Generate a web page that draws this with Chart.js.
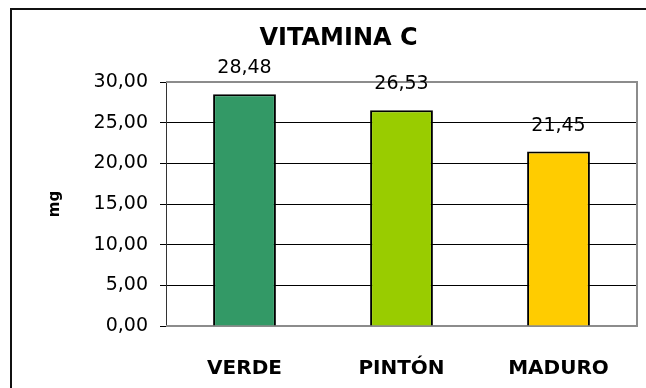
<!DOCTYPE html>
<html>
<head>
<meta charset="utf-8">
<title>Vitamina C</title>
<script src="https://cdn.jsdelivr.net/npm/chart.js@4.4.0/dist/chart.umd.min.js"></script>
<style>
  html, body { margin: 0; padding: 0; background: #fff; overflow: hidden; }
  #wrap { width: 646px; height: 388px; }
</style>
</head>
<body>
<div id="wrap"><canvas id="mycanvas" width="646" height="388"></canvas></div>
<script>
var categorias = ['VERDE', 'PINTÓN', 'MADURO'];
var vitaminaC = [28.48, 26.53, 21.45];
var colores = ['#339966', '#99CC00', '#FFCC00'];
var ejeMin = 0;
var ejeMax = 30;
var ejePaso = 5;

function coma(v) {
    return Number(v).toFixed(2).replace('.', ',');
}

// marco exterior, borde gris del area de trazado y valores sobre cada barra
var marcos = {
    id: 'marcos',
    beforeDraw: function(chart) {
        var ctx = chart.ctx;
        ctx.save();
        ctx.fillStyle = '#fff';
        ctx.fillRect(0, 0, chart.width, chart.height);
        ctx.strokeStyle = '#111';
        ctx.lineWidth = 2;
        ctx.beginPath();
        ctx.moveTo(11, chart.height);
        ctx.lineTo(11, 9);
        ctx.lineTo(chart.width, 9);
        ctx.stroke();
        ctx.restore();
    },
    beforeDatasetsDraw: function(chart) {
        var a = chart.chartArea;
        var ctx = chart.ctx;
        ctx.save();
        ctx.strokeStyle = '#8c8c8c';
        ctx.lineWidth = 2;
        ctx.beginPath();
        ctx.moveTo(a.left, a.top);
        ctx.lineTo(a.right, a.top);
        ctx.lineTo(a.right, a.bottom);
        ctx.lineTo(a.left, a.bottom);
        ctx.stroke();
        ctx.restore();
    },
    afterDatasetsDraw: function(chart) {
        var ctx = chart.ctx;
        var meta = chart.getDatasetMeta(0);
        ctx.save();
        ctx.fillStyle = '#000';
        ctx.font = '19px "DejaVu Sans"';
        ctx.textAlign = 'center';
        ctx.textBaseline = 'alphabetic';
        meta.data.forEach(function(bar, i) {
            ctx.fillText(coma(vitaminaC[i]), bar.x, bar.y - 21);
        });
        ctx.restore();
    }
};

var ctx = document.getElementById('mycanvas');

var grafico = new Chart(ctx, {
    type: 'bar',
    data: {
        labels: categorias,
        datasets: [{
            data: vitaminaC,
            backgroundColor: colores,
            borderColor: '#000',
            borderWidth: 2,
            barPercentage: 0.4,
            categoryPercentage: 1
        }]
    },
    options: {
        responsive: false,
        animation: false,
        devicePixelRatio: 1,
        layout: { padding: { left: 40, right: 9, top: 0, bottom: 0 } },
        plugins: {
            legend: { display: false },
            tooltip: { enabled: false },
            title: {
                display: true,
                text: 'VITAMINA C',
                color: '#000',
                font: { family: 'DejaVu Sans', size: 24, weight: 'bold' },
                padding: { top: 24, bottom: 29.2 }
            }
        },
        scales: {
            x: {
                grid: { display: false },
                border: { display: false },
                ticks: {
                    color: '#000',
                    font: { family: 'DejaVu Sans', size: 20, weight: 'bold' },
                    padding: 23,
                    maxRotation: 0,
                    autoSkip: false
                },
                afterFit: function(s) { s.height = 62; }
            },
            y: {
                min: ejeMin,
                max: ejeMax,
                ticks: {
                    stepSize: ejePaso,
                    callback: function(v) { return coma(v); },
                    color: '#000',
                    font: { family: 'DejaVu Sans', size: 19 },
                    padding: 12
                },
                grid: {
                    color: function(c) {
                        if (!c.tick) return '#000';
                        return (c.tick.value === ejeMin || c.tick.value === ejeMax) ? 'rgba(0,0,0,0)' : '#000';
                    },
                    tickColor: '#000',
                    tickLength: 6,
                    lineWidth: 1
                },
                border: { display: true, color: '#333', width: 1 },
                title: {
                    display: true,
                    text: 'mg',
                    color: '#000',
                    font: { family: 'DejaVu Sans', size: 15, weight: 'bold' },
                    padding: { top: 6, bottom: 0 }
                },
                afterFit: function(s) { s.width = 126; }
            }
        }
    },
    plugins: [marcos]
});
</script>
</body>
</html>
